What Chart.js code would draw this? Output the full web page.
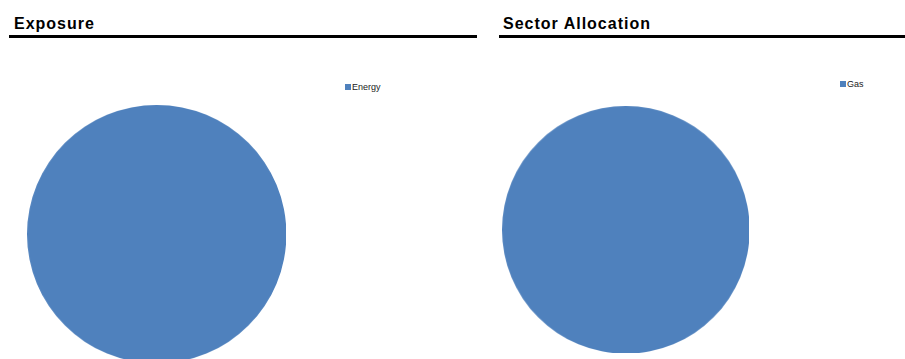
<!DOCTYPE html>
<html>
<head>
<meta charset="utf-8">
<script src="https://cdn.jsdelivr.net/npm/chart.js@4/dist/chart.umd.min.js"></script>
<style>
  html, body { margin: 0; padding: 0; background: #fff; }
  #page { position: relative; width: 905px; height: 359px; overflow: hidden; font-family: "Liberation Sans", Arial, sans-serif; }
  .title { position: absolute; font-weight: bold; font-size: 16px; line-height: 16px; letter-spacing: 1px; color: #000; white-space: nowrap; }
  .rule { position: absolute; height: 3px; background: #000; }
  .pie { position: absolute; }
  .legend { position: absolute; font-size: 9px; line-height: 9px; color: #222; white-space: nowrap; }
  .legend .sw { display: inline-block; width: 6px; height: 6px; margin-right: 1px; vertical-align: 0px; }
</style>
</head>
<body>
<div id="page">
  <div class="title" style="left:14px; top:15.5px;">Exposure</div>
  <div class="rule" style="left:9px; top:35px; width:468px;"></div>
  <div class="title" style="left:503px; top:15.5px;">Sector Allocation</div>
  <div class="rule" style="left:499px; top:35px; width:406px;"></div>

  <div class="pie" style="left:27.3px; top:104.5px; width:258.4px; height:258.4px;"><canvas id="exposure"></canvas></div>
  <div class="legend" id="exposureLegend" style="left:345px; top:83px;"></div>

  <div class="pie" style="left:502.3px; top:106px; width:246.7px; height:246.7px;"><canvas id="sector"></canvas></div>
  <div class="legend" id="sectorLegend" style="left:840px; top:80px;"></div>
</div>
<script>
// Portfolio breakdowns
const exposureLabels = ['Energy'];
const exposureValues = [100];
const sectorLabels = ['Gas'];
const sectorValues = [100];
const sliceColors = ['#4F81BD'];

function makePie(canvasId, legendId, labels, values) {
  const chart = new Chart(document.getElementById(canvasId), {
    type: 'pie',
    data: {
      labels: labels,
      datasets: [{ data: values, backgroundColor: sliceColors, borderWidth: 0, hoverOffset: 0 }]
    },
    options: {
      responsive: true,
      maintainAspectRatio: false,
      animation: false,
      layout: { padding: 0 },
      plugins: { legend: { display: false }, tooltip: { enabled: false } }
    }
  });
  const legend = document.getElementById(legendId);
  chart.data.labels.forEach((label, i) => {
    const item = document.createElement('div');
    const sw = document.createElement('span');
    sw.className = 'sw';
    sw.style.background = sliceColors[i % sliceColors.length];
    item.appendChild(sw);
    item.appendChild(document.createTextNode(label));
    legend.appendChild(item);
  });
  return chart;
}

makePie('exposure', 'exposureLegend', exposureLabels, exposureValues);
makePie('sector', 'sectorLegend', sectorLabels, sectorValues);
</script>
</body>
</html>
